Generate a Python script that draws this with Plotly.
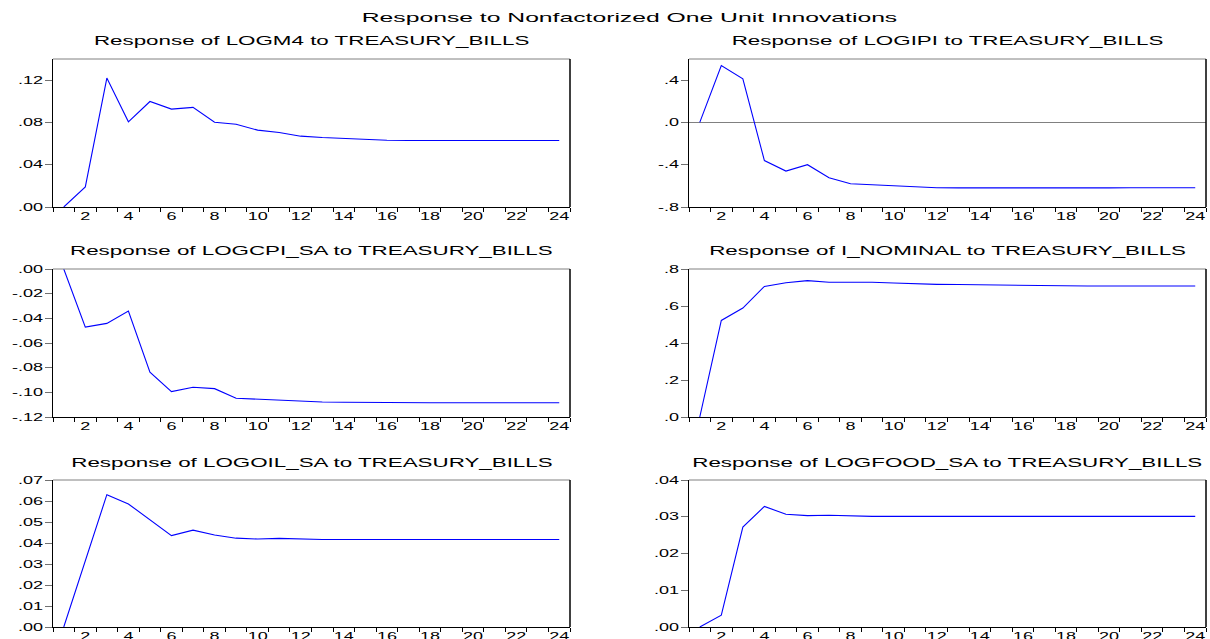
import plotly.graph_objects as go

periods = list(range(1, 25))

logm4 = [0.0, 0.019, 0.122, 0.0806, 0.0998, 0.0926, 0.0942, 0.0802, 0.0783, 0.0727,
         0.0705, 0.067, 0.0657, 0.0648, 0.0638, 0.0632, 0.0629, 0.0629, 0.0629, 0.0629,
         0.0629, 0.0629, 0.0629, 0.0629]
logipi = [0.0, 0.539, 0.412, -0.361, -0.46, -0.40, -0.523, -0.58, -0.59, -0.60,
          -0.615, -0.618, -0.619, -0.62, -0.62, -0.62, -0.62, -0.619, -0.619, -0.619,
          -0.618, -0.618, -0.618, -0.618]
logcpi_sa = [0.0, -0.0471, -0.0441, -0.0341, -0.0837, -0.0994, -0.0959, -0.0970, -0.1048, -0.1056,
             -0.1059, -0.1070, -0.1078, -0.108, -0.1082, -0.1083, -0.1084, -0.1084, -0.1084, -0.1084,
             -0.1084, -0.1084, -0.1084, -0.1084]
i_nominal = [0.0, 0.522, 0.589, 0.706, 0.726, 0.737, 0.728, 0.730, 0.728, 0.724,
             0.719, 0.717, 0.716, 0.714, 0.712, 0.710, 0.709, 0.708, 0.708, 0.708,
             0.708, 0.708, 0.708, 0.708]
logoil_sa = [0.0, 0.0316, 0.063, 0.0586, 0.0509, 0.0435, 0.0461, 0.0438, 0.0423, 0.0419,
             0.0422, 0.0419, 0.0417, 0.0417, 0.0417, 0.0417, 0.0417, 0.0417, 0.0417, 0.0417,
             0.0417, 0.0417, 0.0417, 0.0417]
logfood_sa = [0.0, 0.0032, 0.0272, 0.0328, 0.0307, 0.0303, 0.0304, 0.0302, 0.0301, 0.0301,
              0.0301, 0.0301, 0.0301, 0.0301, 0.0301, 0.0301, 0.0301, 0.0301, 0.0301, 0.0301,
              0.0301, 0.0301, 0.0301, 0.0301]

main_title = "Response to Nonfactorized One Unit Innovations"
panel_titles = [
    "Response of LOGM4 to TREASURY_BILLS",
    "Response of LOGIPI to TREASURY_BILLS",
    "Response of LOGCPI_SA to TREASURY_BILLS",
    "Response of I_NOMINAL to TREASURY_BILLS",
    "Response of LOGOIL_SA to TREASURY_BILLS",
    "Response of LOGFOOD_SA to TREASURY_BILLS",
]

x_tick_vals = [2, 4, 6, 8, 10, 12, 14, 16, 18, 20, 22, 24]
x_tick_text = ["2", "4", "6", "8", "10", "12", "14", "16", "18", "20", "22", "24"]

y_ticks = [
    ([0.0, 0.04, 0.08, 0.12], [".00", ".04", ".08", ".12"], [0.0, 0.14]),
    ([-0.8, -0.4, 0.0, 0.4], ["-.8", "-.4", ".0", ".4"], [-0.8, 0.6]),
    ([-0.12, -0.10, -0.08, -0.06, -0.04, -0.02, 0.0],
     ["-.12", "-.10", "-.08", "-.06", "-.04", "-.02", ".00"], [-0.12, 0.0]),
    ([0.0, 0.2, 0.4, 0.6, 0.8], [".0", ".2", ".4", ".6", ".8"], [0.0, 0.8]),
    ([0.0, 0.01, 0.02, 0.03, 0.04, 0.05, 0.06, 0.07],
     [".00", ".01", ".02", ".03", ".04", ".05", ".06", ".07"], [0.0, 0.07]),
    ([0.0, 0.01, 0.02, 0.03, 0.04], [".00", ".01", ".02", ".03", ".04"], [0.0, 0.04]),
]

series = [logm4, logipi, logcpi_sa, i_nominal, logoil_sa, logfood_sa]

W, H = 1210, 639
col_px = [(53, 570), (689, 1206)]
row_px = [(59, 207), (269, 417), (480, 627)]
title_y_px = [40, 250, 462]

FONT = "Liberation Sans, Arial, sans-serif"

fig = go.Figure()
layout = dict(
    width=W, height=H, margin=dict(l=0, r=0, t=0, b=0, pad=0, autoexpand=False),
    paper_bgcolor="white", plot_bgcolor="white", showlegend=False,
    font=dict(family=FONT, color="black", size=10),
    title=dict(text=main_title, x=((53 + 1206) / 2) / W, xanchor="center",
               y=1 - 17 / H, yanchor="middle", yref="container",
               font=dict(family=FONT, size=13, color="black")),
)
annotations = []
shapes = []
minor_vals = [p - 0.5 for p in periods] + [24.5]

for i, ys in enumerate(series):
    r, c = divmod(i, 2)
    n = i + 1
    xa = "x" if n == 1 else f"x{n}"
    ya = "y" if n == 1 else f"y{n}"
    fig.add_trace(go.Scatter(x=periods, y=ys, mode="lines", xaxis=xa, yaxis=ya,
                             line=dict(color="#0000ff", width=1.1), hoverinfo="skip"))
    x0, x1 = col_px[c]
    t0, b0 = row_px[r]
    tv, tt, rng = y_ticks[i]
    layout["xaxis" if n == 1 else f"xaxis{n}"] = dict(
        domain=[x0 / W, x1 / W], anchor=ya, range=[0.5, 24.5], automargin=False,
        showgrid=False, zeroline=False, showline=True, linecolor="black", linewidth=1,
        tickmode="array", tickvals=x_tick_vals, ticktext=x_tick_text, ticks="",
        tickfont=dict(size=10, family=FONT, color="black"),
        minor=dict(tickmode="array", tickvals=minor_vals, ticks="outside",
                   ticklen=4, tickcolor="black", tickwidth=1, showgrid=False),
    )
    layout["yaxis" if n == 1 else f"yaxis{n}"] = dict(
        domain=[1 - b0 / H, 1 - t0 / H], anchor=xa, range=rng, automargin=False,
        showgrid=False, showline=True, linecolor="black", linewidth=1,
        zeroline=(i == 1), zerolinecolor="#808080", zerolinewidth=1,
        tickmode="array", tickvals=tv, ticktext=tt, ticks="outside",
        ticklen=7, tickcolor="#707070", tickwidth=1,
        tickfont=dict(size=10, family=FONT, color="black"),
    )
    # top (gray) and right (black) frame edges
    shapes.append(dict(type="line", xref=f"{xa} domain", yref=f"{ya} domain",
                       x0=0, x1=1, y0=1, y1=1, line=dict(color="#808080", width=1)))
    shapes.append(dict(type="line", xref=f"{xa} domain", yref=f"{ya} domain",
                       x0=1, x1=1, y0=0, y1=1, line=dict(color="black", width=1.5)))
    annotations.append(dict(text=panel_titles[i], xref="paper", yref="paper",
                            x=((x0 + x1) / 2) / W, y=1 - title_y_px[r] / H,
                            xanchor="center", yanchor="middle", showarrow=False,
                            font=dict(family=FONT, size=13, color="black")))

layout["annotations"] = annotations
layout["shapes"] = shapes
fig.update_layout(**layout)

post = """
document.body.style.margin='0';
document.body.style.overflow='hidden';
var gd=document.getElementById('{plot_id}');
function stretch(sel,f){
  gd.querySelectorAll(sel).forEach(function(t){
    var w=t.getComputedTextLength();
    if(w>0){t.setAttribute('textLength',(w*f).toFixed(2));t.setAttribute('lengthAdjust','spacingAndGlyphs');}
  });
}
stretch('.xaxislayer-above text',1.8);
stretch('.yaxislayer-above text',1.8);
stretch('.annotation-text',1.72);
stretch('.gtitle',1.9);
"""

fig.write_html("out.html", post_script=post, config={"staticPlot": True})
